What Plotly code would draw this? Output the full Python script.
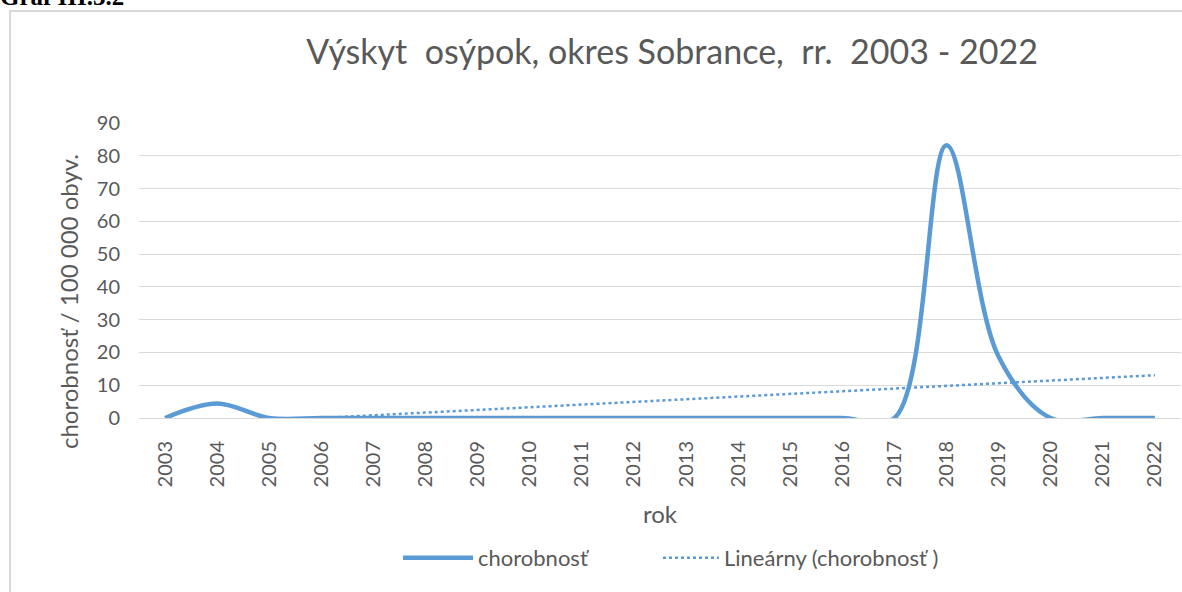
import numpy as np
import plotly.graph_objects as go

years = [str(y) for y in range(2003, 2023)]
chorobnost = [0, 4.4, 0, 0, 0, 0, 0, 0, 0, 0, 0, 0, 0, 0, 0, 83.2, 18.7, 0, 0, 0]
y_ticks = list(range(0, 91, 10))

# linear trend (Excel "Lineárny" trendline) computed from the series
xi = np.arange(1, len(years) + 1)
slope, intercept = np.polyfit(xi, chorobnost, 1)
trend = slope * xi + intercept

FONT = "Lato"
GRAY = "#595959"
BLUE = "#5b9bd5"

W, H = 1182, 592
L, R, T, B = 139, 1, 123, 174
pw, ph = W - L - R, H - T - B

def px(x):
    return (x - L) / pw

def py(y):
    return (H - B - y) / ph

fig = go.Figure()
fig.add_trace(go.Scatter(
    x=years, y=chorobnost, mode="lines", name="chorobnosť", legend="legend",
    line=dict(color=BLUE, width=4.5, shape="spline", smoothing=1.0),
))
fig.add_trace(go.Scatter(
    x=years, y=trend, mode="lines", name="Lineárny (chorobnosť )", legend="legend2",
    line=dict(color=BLUE, width=2.5, dash="dot"),
))

legend_common = dict(
    orientation="h", xanchor="left", y=py(558), yanchor="middle",
    font=dict(family=FONT, size=22, color=GRAY),
    bgcolor="rgba(0,0,0,0)",
)

fig.update_layout(
    width=W, height=H, autosize=False,
    margin=dict(l=L, r=R, t=T, b=B),
    paper_bgcolor="white", plot_bgcolor="white",
    font=dict(family=FONT, color=GRAY),
    title=dict(
        text="Výskyt\u00a0\u00a0osýpok, okres Sobrance,\u00a0\u00a0rr.\u00a0\u00a02003 - 2022",
        x=672 / W, xanchor="center", y=1 - 52 / H, yanchor="middle",
        font=dict(family=FONT, size=34, color=GRAY),
    ),
    xaxis=dict(
        type="category", range=[-0.5, len(years) - 0.5], tickangle=-90, showgrid=False,
        showline=True, linecolor="#d9d9d9", linewidth=1,
        ticks="", tickfont=dict(family=FONT, size=20, color=GRAY),
        ticklabelstandoff=14,
        title=dict(text="rok", font=dict(family=FONT, size=24, color=GRAY), standoff=19),
    ),
    yaxis=dict(
        range=[0, 90], tickvals=y_ticks, showgrid=True, gridcolor="#d9d9d9", gridwidth=1,
        zeroline=False, showline=False, ticks="",
        tickfont=dict(family=FONT, size=20, color=GRAY), ticklabelstandoff=18,
    ),
    legend=dict(x=px(398), itemwidth=70, **legend_common),
    legend2=dict(x=px(658), itemwidth=56, **legend_common),
    showlegend=True,
)

fig.add_annotation(
    text="chorobnosť / 100 000 obyv.", xref="paper", yref="paper",
    x=px(68), xanchor="center", y=py(302), yanchor="middle", textangle=-90,
    showarrow=False, font=dict(family=FONT, size=24, color=GRAY),
)
fig.add_annotation(
    text="<b>Graf III.3.2</b>", xref="paper", yref="paper",
    x=px(-2), xanchor="left", y=py(12), yanchor="bottom", showarrow=False,
    font=dict(family="Liberation Serif", size=25, color="black"),
)
fig.add_shape(
    type="rect", xref="paper", yref="paper",
    x0=px(10), x1=px(1195), y0=py(11), y1=py(640),
    line=dict(color="#d9d9d9", width=2), layer="below",
)

fig.write_html(
    "out.html",
    config={"displayModeBar": False},
    post_script="document.body.style.margin='0';document.body.style.overflow='hidden';",
)
